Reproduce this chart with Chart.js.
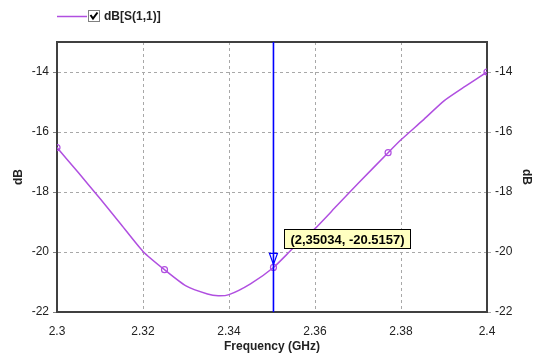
<!DOCTYPE html>
<html><head><meta charset="utf-8">
<script src="https://cdn.jsdelivr.net/npm/chart.js@4"></script>
<style>html,body{margin:0;padding:0;background:#fff}#wrap{width:536px;height:356px}</style>
</head><body><div id="wrap"><canvas id="c" width="536" height="356"></canvas></div>
<script>
const freqs = [2.300,2.305,2.310,2.315,2.320,2.325,2.330,2.335,2.3375,2.340,2.345,2.35034,2.355,2.360,2.365,2.370,2.377,2.380,2.385,2.390,2.395,2.400];
const s11   = [-16.52,-17.36,-18.22,-19.10,-19.98,-20.59,-21.13,-21.40,-21.46,-21.42,-21.06,-20.5157,-19.86,-19.22,-18.47,-17.72,-16.69,-16.26,-15.62,-14.96,-14.47,-14.00];
const markedFreqs = [2.300,2.325,2.35034,2.377,2.400];
const xTicks = [2.3,2.32,2.34,2.36,2.38,2.4];
const yTicks = [-22,-20,-18,-16,-14];
const markerFreq = 2.35034;
const markerVal = -20.5157;
const markerLabel = "(2,35034, -20.5157)";
const seriesName = "dB[S(1,1)]";

const PURPLE = '#b04fe0';
const FONT = "'Liberation Sans', Arial, sans-serif";

const overlay = {
  id: 'overlay',
  afterDraw(chart) {
    const ctx = chart.ctx, ca = chart.chartArea;
    const xs = chart.scales.x, ys = chart.scales.y;
    ctx.save();
    ctx.setLineDash([]);
    // top border
    ctx.strokeStyle = '#404040'; ctx.lineWidth = 2;
    ctx.beginPath(); ctx.moveTo(ca.left - 1, ca.top); ctx.lineTo(ca.right + 1, ca.top); ctx.stroke();
    // legend
    ctx.strokeStyle = PURPLE; ctx.lineWidth = 1.5;
    ctx.beginPath(); ctx.moveTo(57, 16.5); ctx.lineTo(87, 16.5); ctx.stroke();
    ctx.fillStyle = '#fff'; ctx.strokeStyle = '#808080'; ctx.lineWidth = 1;
    ctx.fillRect(88.5, 10.5, 11, 11); ctx.strokeRect(88.5, 10.5, 11, 11);
    ctx.strokeStyle = '#000'; ctx.lineWidth = 2;
    ctx.beginPath(); ctx.moveTo(90.5, 15); ctx.lineTo(93, 18.5); ctx.lineTo(97.5, 12.5); ctx.stroke();
    ctx.fillStyle = '#222'; ctx.font = "bold 12px " + FONT; ctx.textBaseline = 'middle'; ctx.textAlign = 'left';
    ctx.fillText(seriesName, 104, 16.5);
    // marker line
    const mx = xs.getPixelForValue(markerFreq);
    const my = ys.getPixelForValue(markerVal);
    ctx.strokeStyle = '#0000ff'; ctx.lineWidth = 1.6;
    ctx.beginPath(); ctx.moveTo(mx, ca.top); ctx.lineTo(mx, ca.bottom); ctx.stroke();
    // triangle
    ctx.lineWidth = 1.2;
    ctx.beginPath(); ctx.moveTo(mx - 4, my - 14); ctx.lineTo(mx + 4, my - 14); ctx.lineTo(mx, my - 3); ctx.closePath(); ctx.stroke();
    // label box
    ctx.font = "bold 13px " + FONT;
    const bx = 284.5, by = 229.5, bw = 126, bh = 19;
    ctx.fillStyle = '#ffffc0'; ctx.fillRect(bx, by, bw, bh);
    ctx.strokeStyle = '#000'; ctx.lineWidth = 1; ctx.strokeRect(bx, by, bw, bh);
    ctx.fillStyle = '#000'; ctx.textAlign = 'center';
    ctx.fillText(markerLabel, bx + bw / 2, by + bh / 2 + 1, bw - 4);
    ctx.restore();
  }
};

new Chart(document.getElementById('c'), {
  type: 'scatter',
  data: {
    datasets: [{
      data: freqs.map((f, i) => ({x: f, y: s11[i]})),
      showLine: true,
      borderColor: PURPLE,
      borderWidth: 1.5,
      tension: 0.2,
      pointRadius: freqs.map(f => markedFreqs.includes(f) ? 3 : 0),
      pointBorderColor: PURPLE,
      pointBackgroundColor: 'rgba(0,0,0,0)',
      pointBorderWidth: 1.2
    }]
  },
  plugins: [overlay],
  options: {
    responsive: false,
    animation: false,
    layout: {padding: {top: 42, left: 0, right: 0, bottom: 0}},
    plugins: {legend: {display: false}, tooltip: {enabled: false}},
    scales: {
      x: {
        type: 'linear', min: 2.3, max: 2.4,
        afterBuildTicks: s => { s.ticks = xTicks.map(v => ({value: v})); },
        afterFit: s => { s.height = 44; },
        border: {display: true, color: '#404040', width: 2, dash: [3,3]},
        grid: {color: '#a8a8a8', tickColor: 'rgba(0,0,0,0)', tickLength: 4, drawTicks: true},
        ticks: {color: '#222', font: {family: FONT, size: 12}, padding: 8, maxRotation: 0,
                callback: v => String(+v.toFixed(2))},
        title: {display: true, text: 'Frequency (GHz)', color: '#222', font: {family: FONT, size: 12, weight: 'bold'}, padding: {top: 0, bottom: 2}}
      },
      y: {
        type: 'linear', position: 'left', min: -22, max: -13,
        afterBuildTicks: s => { s.ticks = yTicks.map(v => ({value: v})); },
        afterFit: s => { s.width = 57; },
        border: {display: true, color: '#404040', width: 2, dash: [3,3]},
        grid: {color: '#a8a8a8', tickColor: '#808080', tickLength: 4},
        ticks: {color: '#222', font: {family: FONT, size: 12}, padding: 4},
        title: {display: true, text: 'dB', color: '#222', font: {family: FONT, size: 12, weight: 'bold'}, padding: {top: 11, bottom: 2}}
      },
      y2: {
        type: 'linear', position: 'right', min: -22, max: -13,
        afterBuildTicks: s => { s.ticks = yTicks.map(v => ({value: v})); },
        afterFit: s => { s.width = 49; },
        border: {display: true, color: '#404040', width: 2},
        grid: {drawOnChartArea: false, color: '#a8a8a8', tickLength: 4},
        ticks: {color: '#222', font: {family: FONT, size: 12}, padding: 4},
        title: {display: true, text: 'dB', color: '#222', font: {family: FONT, size: 12, weight: 'bold'}, padding: {top: 2, bottom: 0}}
      }
    }
  }
});
</script></body></html>
